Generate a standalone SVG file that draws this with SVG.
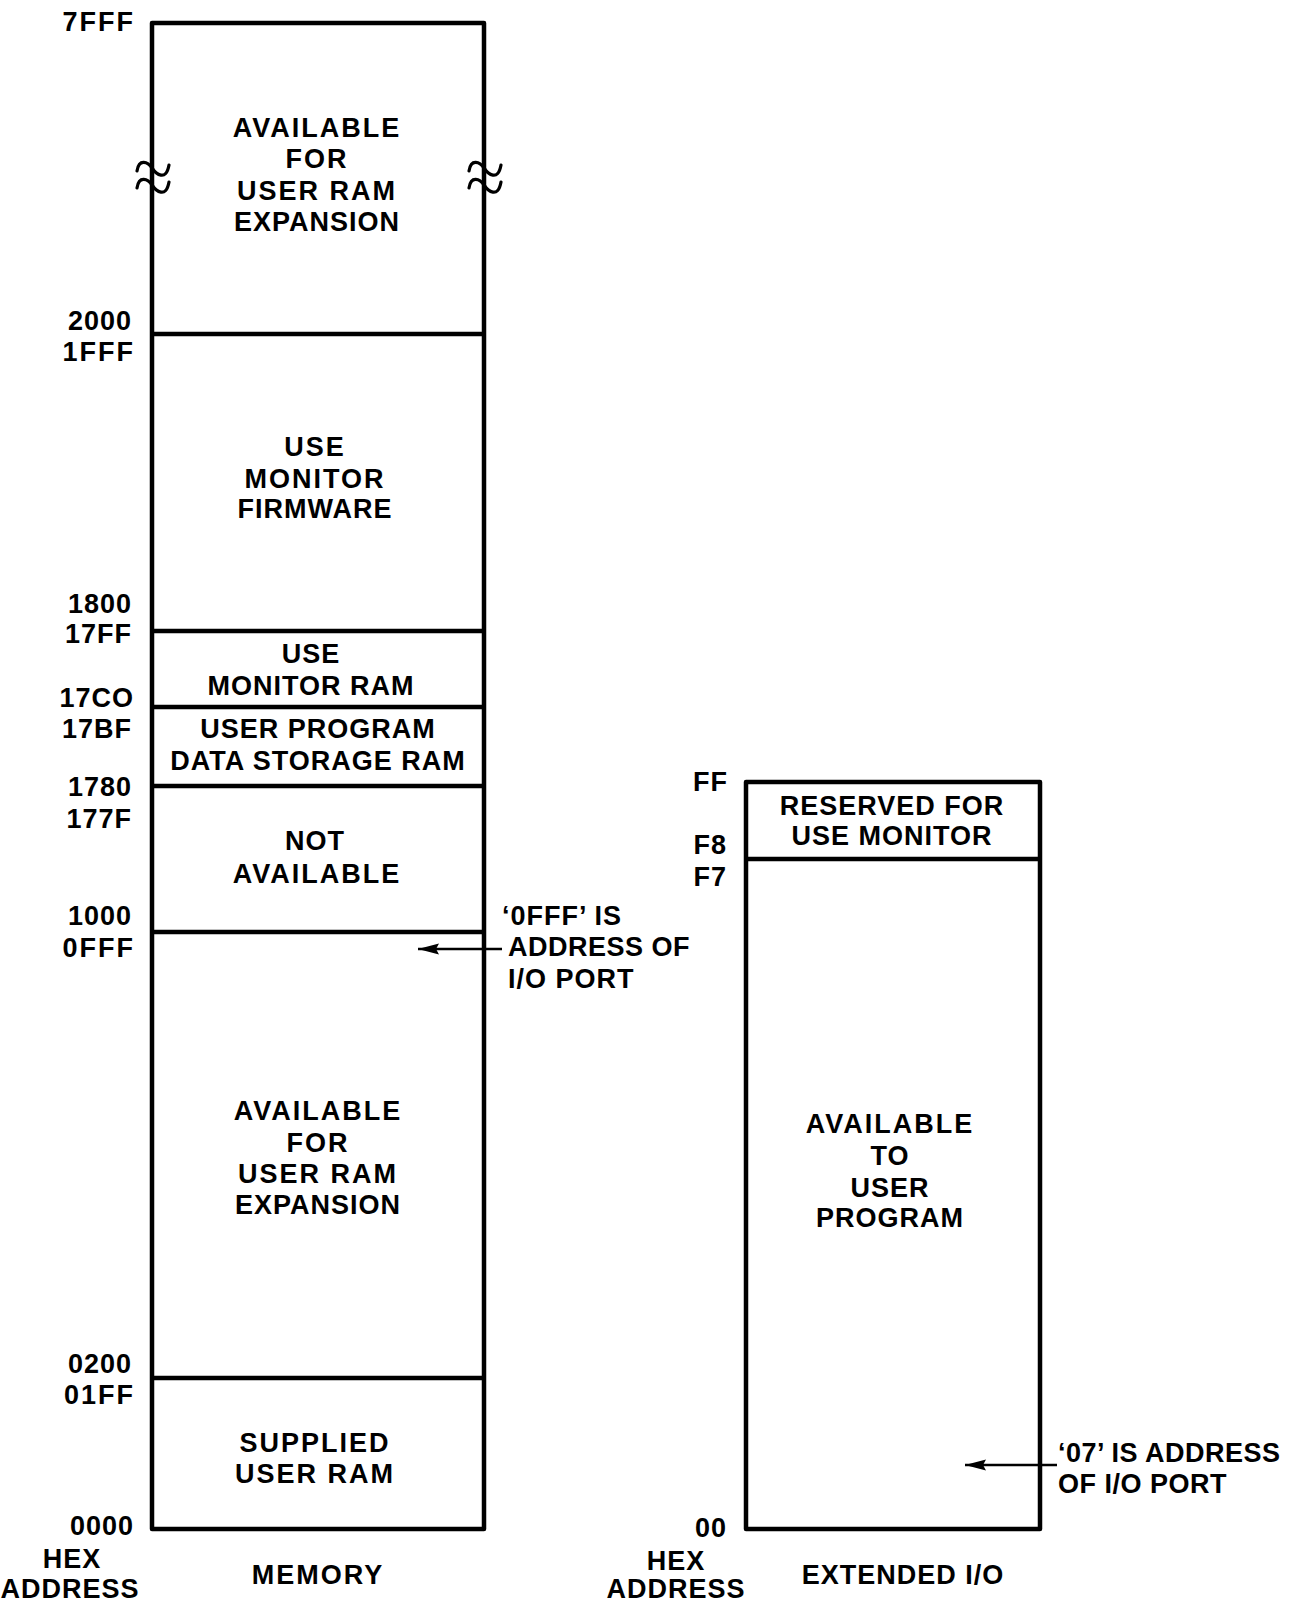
<svg xmlns="http://www.w3.org/2000/svg" width="1296" height="1607" viewBox="0 0 1296 1607">
<style>
  .box{fill:none;stroke:#000;stroke-width:4.5;stroke-linejoin:round}
  .div{stroke:#000;stroke-width:4.5}
  .t{font-family:"Liberation Sans",Arial,sans-serif;font-weight:bold;font-size:27px;fill:#000;letter-spacing:2px}
  .c{text-anchor:middle}
  .r{text-anchor:end}
  .n{letter-spacing:1px}
  .k{letter-spacing:0.5px}
  .sq{fill:none;stroke:#000;stroke-width:3.2;stroke-linecap:round}
  .conn{stroke:#000;stroke-width:2.5;fill:none}
</style>
<defs>
  <marker id="ah" markerWidth="22" markerHeight="12" refX="21" refY="6" orient="auto" markerUnits="userSpaceOnUse">
    <path d="M0,0.5 L21,6 L0,11.5 L3,6 Z" fill="#000"/>
  </marker>
  <path id="tilde" class="sq" d="M-15,8 C-13,-5 -4,-1 0,5 S14,19 17,2"/>
</defs>
<rect width="1296" height="1607" fill="#fff"/>

<g id="memory">
  <rect class="box" x="152" y="23" width="332" height="1506"/>
  <line class="div" x1="152" y1="334" x2="484" y2="334"/>
  <line class="div" x1="152" y1="631" x2="484" y2="631"/>
  <line class="div" x1="152" y1="707" x2="484" y2="707"/>
  <line class="div" x1="152" y1="786" x2="484" y2="786"/>
  <line class="div" x1="152" y1="932" x2="484" y2="932"/>
  <line class="div" x1="152" y1="1378" x2="484" y2="1378"/>
  <use href="#tilde" x="152" y="163"/>
  <use href="#tilde" x="152" y="180"/>
  <use href="#tilde" x="484" y="163"/>
  <use href="#tilde" x="484" y="180"/>
  <text class="t c" x="318" y="1584">MEMORY</text>
</g>

<g id="seg-7fff-2000">
  <text class="t c" x="317" y="137">AVAILABLE</text>
  <text class="t c" x="317" y="168">FOR</text>
  <text class="t c" x="317" y="200">USER RAM</text>
  <text class="t c n" x="317" y="231">EXPANSION</text>
</g>
<g id="seg-1fff-1800">
  <text class="t c" x="315" y="456">USE</text>
  <text class="t c" x="315" y="488">MONITOR</text>
  <text class="t c n" x="315" y="518">FIRMWARE</text>
</g>
<g id="seg-17ff-17c0">
  <text class="t c n" x="311" y="663">USE</text>
  <text class="t c n" x="311" y="695">MONITOR RAM</text>
</g>
<g id="seg-17bf-1780">
  <text class="t c n" x="318" y="738">USER PROGRAM</text>
  <text class="t c n" x="318" y="770">DATA STORAGE RAM</text>
</g>
<g id="seg-177f-1000">
  <text class="t c n" x="315" y="850">NOT</text>
  <text class="t c" x="317" y="883">AVAILABLE</text>
</g>
<g id="seg-0fff-0200">
  <text class="t c" x="318" y="1120">AVAILABLE</text>
  <text class="t c" x="318" y="1152">FOR</text>
  <text class="t c" x="318" y="1183">USER RAM</text>
  <text class="t c n" x="318" y="1214">EXPANSION</text>
</g>
<g id="seg-01ff-0000">
  <text class="t c" x="315" y="1452">SUPPLIED</text>
  <text class="t c" x="315" y="1483">USER RAM</text>
</g>

<g id="mem-addresses">
  <text class="t r" x="135" y="31">7FFF</text>
  <text class="t r n" x="132" y="330">2000</text>
  <text class="t r" x="135" y="361">1FFF</text>
  <text class="t r n" x="132" y="613">1800</text>
  <text class="t r n" x="132" y="643">17FF</text>
  <text class="t r n" x="134" y="707">17CO</text>
  <text class="t r n" x="132" y="738">17BF</text>
  <text class="t r n" x="132" y="796">1780</text>
  <text class="t r n" x="132" y="828">177F</text>
  <text class="t r n" x="132" y="925">1000</text>
  <text class="t r" x="135" y="957">0FFF</text>
  <text class="t r n" x="132" y="1373">0200</text>
  <text class="t r" x="135" y="1404">01FF</text>
  <text class="t r n" x="134" y="1535">0000</text>
  <text class="t c n" x="72" y="1568">HEX</text>
  <text class="t c n" x="70" y="1598">ADDRESS</text>
</g>

<g id="mem-note">
  <text class="t n" x="502" y="925">‘0FFF’ IS</text>
  <text class="t k" x="508" y="956">ADDRESS OF</text>
  <text class="t n" x="508" y="988">I/O PORT</text>
</g>

<g id="extended-io">
  <rect class="box" x="746" y="782" width="294" height="747"/>
  <line class="div" x1="746" y1="859" x2="1040" y2="859"/>
  <text class="t c n" x="903" y="1584">EXTENDED I/O</text>
</g>
<g id="io-ff-f8">
  <text class="t c n" x="892" y="815">RESERVED FOR</text>
  <text class="t c n" x="892" y="845">USE MONITOR</text>
</g>
<g id="io-f7-00">
  <text class="t c" x="890" y="1133">AVAILABLE</text>
  <text class="t c n" x="890" y="1165">TO</text>
  <text class="t c n" x="890" y="1197">USER</text>
  <text class="t c n" x="890" y="1227">PROGRAM</text>
</g>
<g id="io-addresses">
  <text class="t r n" x="728" y="791">FF</text>
  <text class="t r n" x="727" y="854">F8</text>
  <text class="t r n" x="727" y="886">F7</text>
  <text class="t r n" x="727" y="1537">00</text>
  <text class="t c n" x="676" y="1570">HEX</text>
  <text class="t c n" x="676" y="1598">ADDRESS</text>
</g>
<g id="io-note">
  <text class="t k" x="1058" y="1462">‘07’ IS ADDRESS</text>
  <text class="t k" x="1058" y="1493">OF I/O PORT</text>
</g>

<g id="connectors">
  <line class="conn" x1="502" y1="949" x2="418" y2="949" marker-end="url(#ah)"/>
  <line class="conn" x1="1057" y1="1465" x2="965" y2="1465" marker-end="url(#ah)"/>
</g>
</svg>
